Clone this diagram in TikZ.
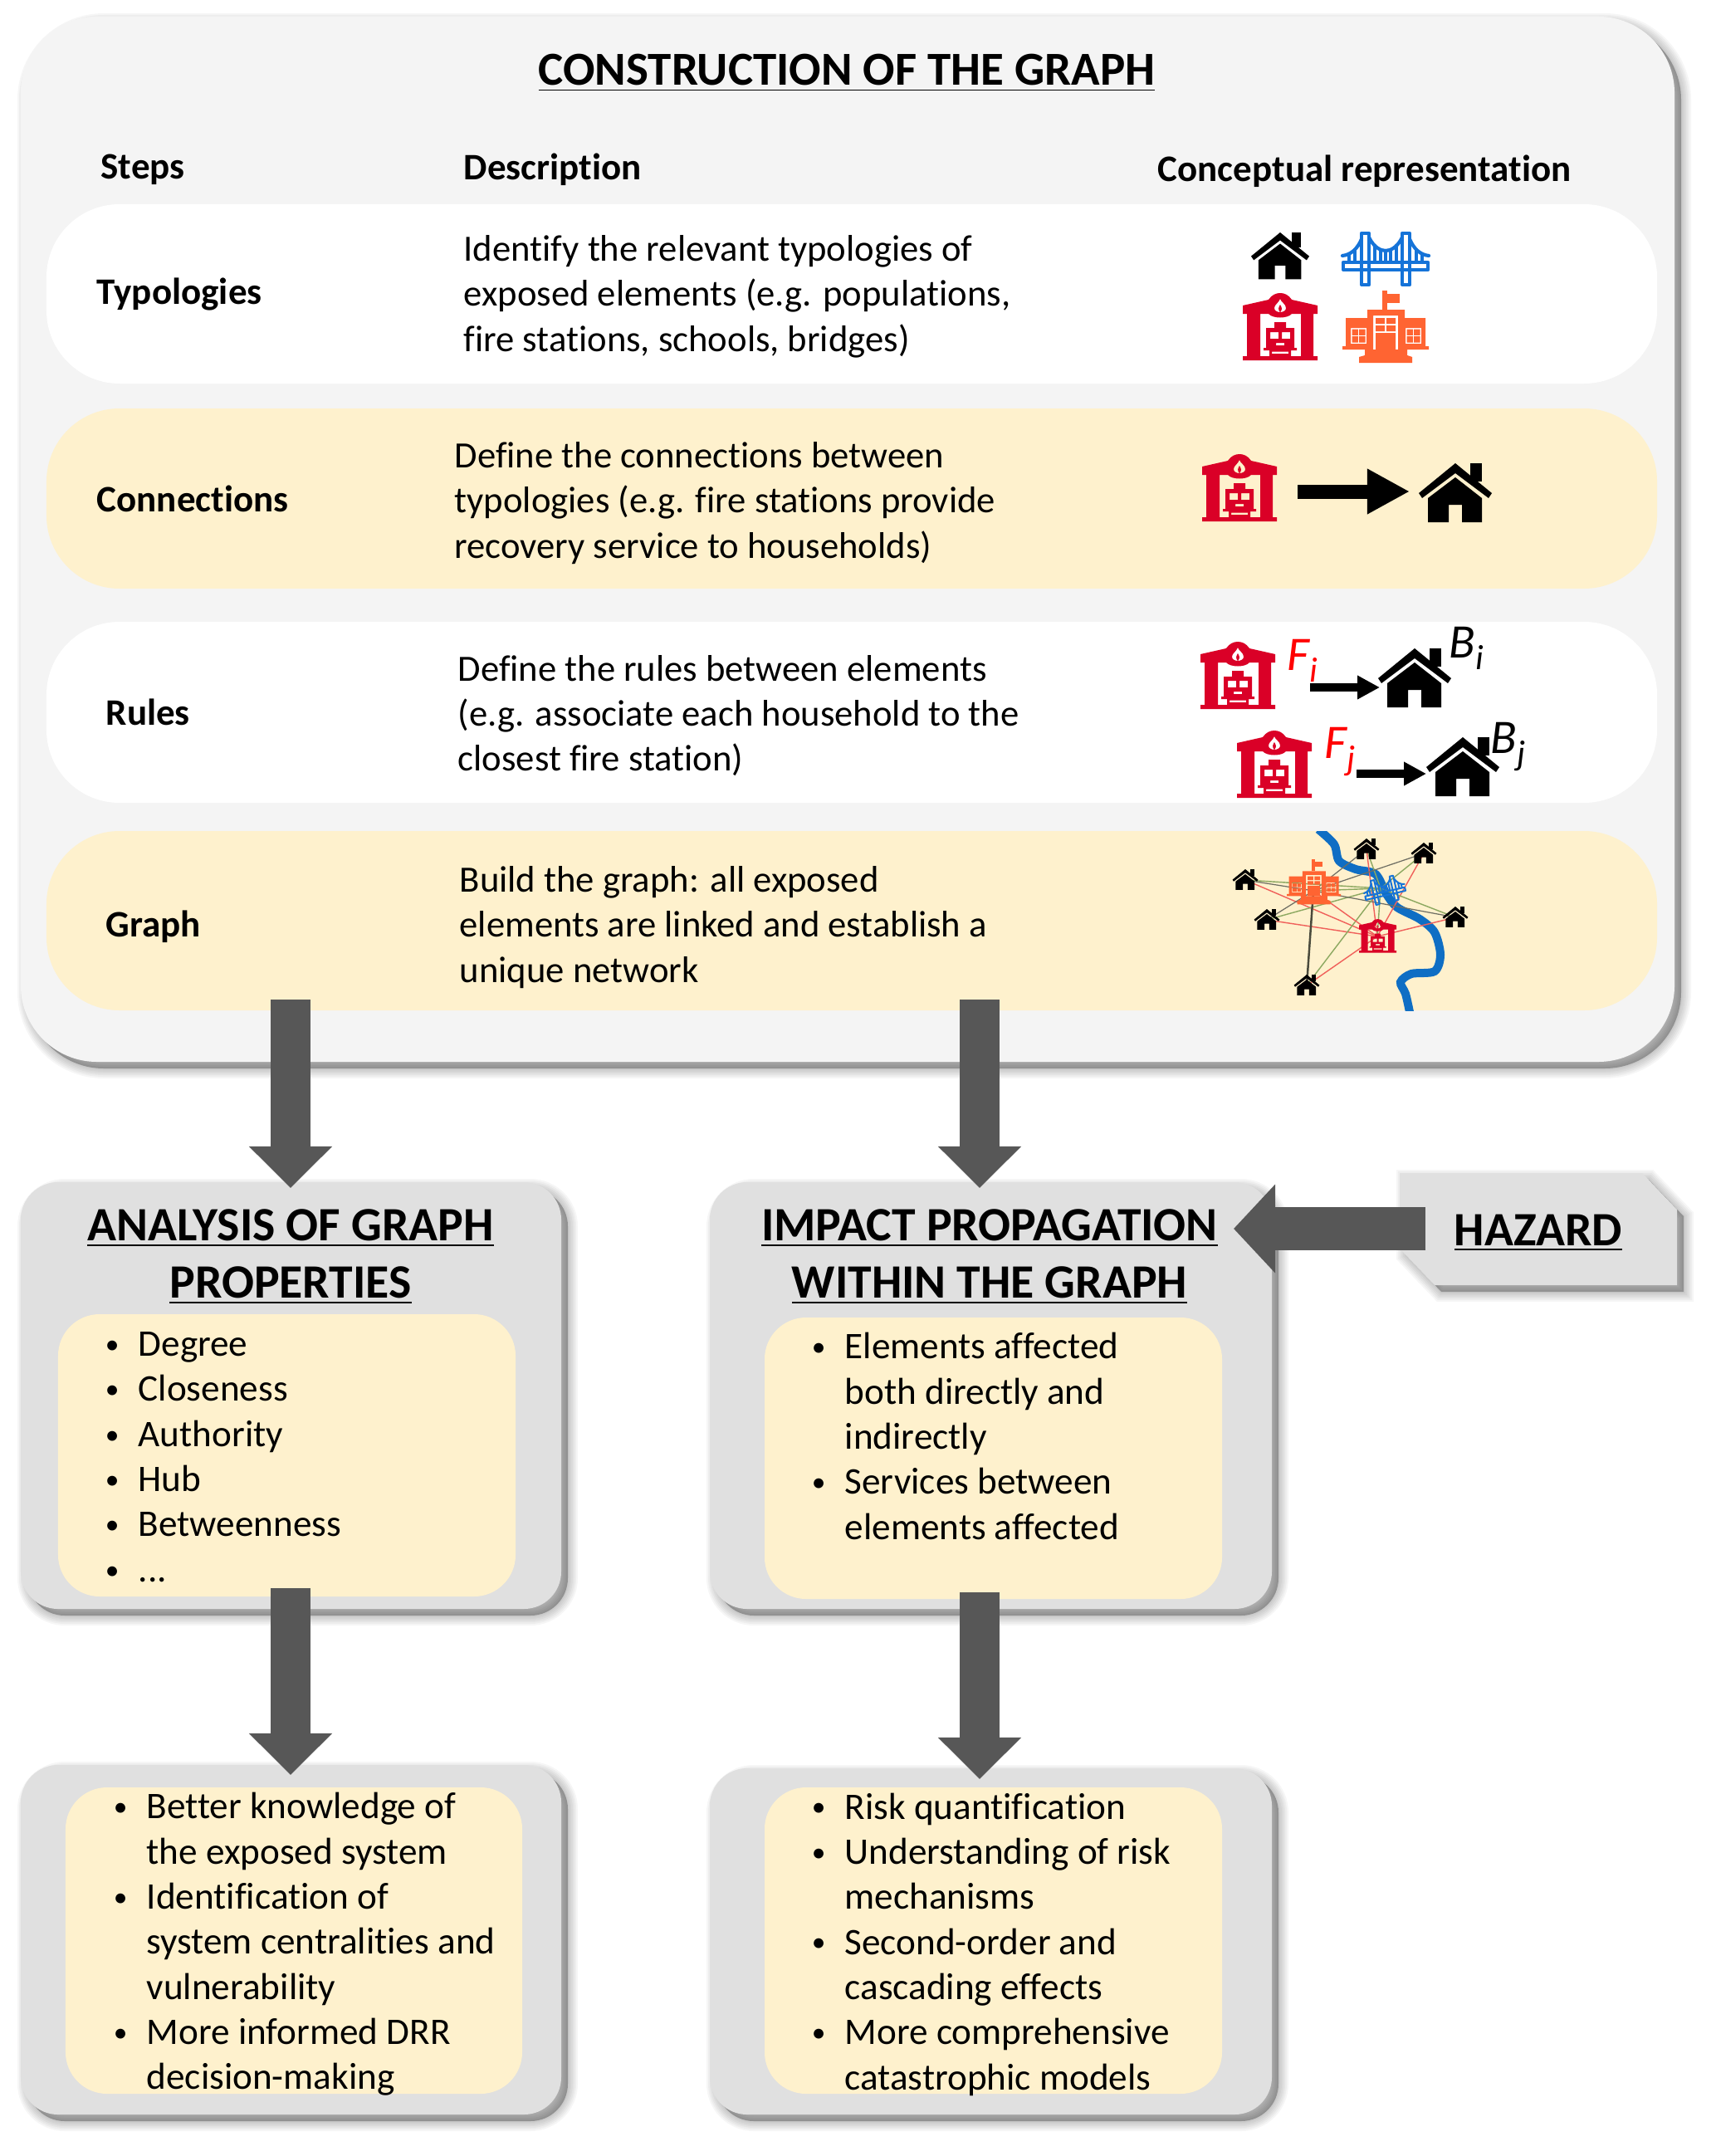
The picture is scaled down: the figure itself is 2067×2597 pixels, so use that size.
\documentclass[tikz,border=0pt]{standalone}
\usepackage{fontspec}
\setmainfont[Ligatures=NoCommon]{Carlito}
\usetikzlibrary{arrows.meta,calc}
\definecolor{cream}{HTML}{FEF1CD}
\definecolor{panelA}{HTML}{F4F4F4}
\definecolor{panelB}{HTML}{E0E0E0}
\definecolor{arrowgray}{HTML}{575757}
\definecolor{firered}{HTML}{DA0027}
\definecolor{schoolor}{HTML}{FF6432}
\definecolor{bridgeblue}{HTML}{1573D8}
\definecolor{riverblue}{HTML}{0F6EC4}
\definecolor{edgered}{HTML}{F0605A}
\definecolor{edgegreen}{HTML}{8CA860}
\definecolor{edgeblack}{HTML}{4A4A3C}
\newcommand{\bodyfont}{\fontsize{12.7}{15.45}\selectfont}
\newcommand{\listfont}{\fontsize{12.85}{15.45}\selectfont}
\newcommand{\titlefont}{\fontsize{16.4}{19.7}\selectfont\bfseries}
\newcommand{\bul}{\llap{\raisebox{0.9pt}{\fontsize{9.5}{9.5}\selectfont\textbullet}\hspace{6.6pt}}}
% named panel: name x1 y1 x2 y2 radius fill
\newcommand{\rbox}[7]{%
  \pgfmathsetmacro\rr{#6*0.01}%
  \pgfmathsetmacro\ww{(#4-#2)*0.01}%
  \pgfmathsetmacro\hh{(#5-#3)*0.01}%
  \node[fill=#7,rounded corners=\rr cm,minimum width=\ww cm,minimum height=\hh cm,inner sep=0pt,line width=0pt] (#1) at ({(#2+#4)/2},{(#3+#5)/2}) {};}
\newcommand{\shadowbox}[5]{%
  \pgfmathsetmacro\rr{#5*0.01}%
  \fill[black,opacity=.28,rounded corners=\rr cm] ({#1+8},{#2+8}) rectangle ({#3+8},{#4+8});%
  \foreach \s in {4,8,...,24}{%
    \draw[black,opacity=.035,line width=\s*0.01cm,rounded corners=\rr cm] ({#1+8},{#2+8}) rectangle ({#3+8},{#4+8});}}
\tikzset{
  blockarrow/.style={arrowgray,line width=0.48cm,-{Triangle[length=0.5cm,width=0.97cm]}},
  iconarrow/.style={black,line width=0.17cm,-{Triangle[length=0.51cm,width=0.51cm]}},
  smallarrow/.style={black,line width=0.1cm,-{Triangle[length=0.27cm,width=0.27cm]}},
  bodytext/.style={anchor=west,align=left,inner sep=0pt,font=\bodyfont},
  listtext/.style={anchor=west,align=left,inner sep=0pt,font=\listfont},
  headtext/.style={anchor=west,align=left,inner sep=0pt,font=\fontsize{12.8}{15.45}\selectfont\bfseries},
  paneltitle/.style={anchor=center,align=center,inner sep=0pt,font=\titlefont},
  mathlabel/.style={anchor=base west,inner sep=0pt,font=\fontsize{16.5}{18}\selectfont\itshape},
  houseicon/.pic={
    \fill[black] (44,0) -- (88,36) -- (84,42) -- (44,12) -- (4,42) -- (0,36) -- cycle;
    \fill[black] (62,0) rectangle (76,22);
    \fill[black] (44,17) -- (76,42) -- (76,71) -- (52,71) -- (52,50) -- (36,50) -- (36,71) -- (11,71) -- (11,42) -- cycle;
  },
  fireicon/.pic={
    \fill[firered,even odd rule] (0,15) -- (31,8) .. controls (35,2) and (40,0) .. (45,0) .. controls (50,0) and (55,2) .. (59,8) -- (90,15) -- (90,25) -- (85,25) -- (85,76) -- (90,76) -- (90,81) -- (0,81) -- (0,76) -- (5,76) -- (5,25) -- (0,25) -- cycle
      (21,25) -- (31,25) .. controls (36,31) and (54,31) .. (59,25) -- (70,25) -- (70,76) -- (21,76) -- cycle
      (45,7) .. controls (46,11) and (52,13) .. (52,18) .. controls (52,21) and (49,23) .. (45,23) .. controls (41,23) and (38,21) .. (38,18) .. controls (38,14) and (43,12) .. (45,7) -- cycle
      (45,14) .. controls (43,17) and (42,20) .. (45,23) .. controls (48,20) and (47,17) .. (45,14) -- cycle;
    \fill[firered,even odd rule] (38,35) -- (52,35) -- (52,42) -- (62,42) -- (62,66) -- (65,66) -- (65,69) -- (58,69) -- (58,76) -- (32,76) -- (32,69) -- (25,69) -- (25,66) -- (28,66) -- (28,42) -- (38,42) -- cycle
      (33,47) rectangle (43,55) (47,47) rectangle (57,55) (40,60) rectangle (50,63) (35,70.5) rectangle (55,73);
  },
  bridgeicon/.pic={
    \begin{scope}[bridgeblue,line cap=round,line join=round]
    \draw (23,1) rectangle (32,63);
    \draw (72,1) rectangle (81,63);
    \draw (0,28) .. controls (10,27) and (18,20) .. (23,8);
    \draw (32,6) .. controls (38,18) and (46,22) .. (52,22) .. controls (58,22) and (66,18) .. (72,6);
    \draw (81,8) .. controls (86,20) and (94,27) .. (104,28);
    \foreach \hx/\hy in {8/26,15/21,39/16,46/21,52/22,58/21,65/16,89/21,96/26}{\draw (\hx,\hy) -- (\hx,35);}
    \draw (1,36) rectangle (103,45);
    \end{scope}
  },
  schoolicon/.pic={
    \fill[schoolor] (48,0) rectangle (54,23);
    \fill[schoolor] (54,4) rectangle (69,15);
    \fill[schoolor,even odd rule] (30,23) -- (75,23) -- (75,33) -- (100,33) -- (100,67) -- (104,67) -- (104,71) -- (78,71) -- (78,78) -- (84,80) -- (84,87) -- (20,87) -- (20,80) -- (27,78) -- (27,71) -- (0,71) -- (0,67) -- (4,67) -- (4,33) -- (30,33) -- cycle
      (37,30) rectangle (67,71)
      (10,45) rectangle (29,64)
      (76,45) rectangle (95,64);
    \fill[schoolor] (40,33) rectangle (50.8,40) (53.2,33) rectangle (64,40) (40,42) rectangle (50.8,49) (53.2,42) rectangle (64,49) (40,51) rectangle (64,71);
    \fill[schoolor] (11.5,46.5) rectangle (18.8,53.8) (20.2,46.5) rectangle (27.5,53.8) (11.5,55.2) rectangle (18.8,62.5) (20.2,55.2) rectangle (27.5,62.5);
    \fill[schoolor] (77.5,46.5) rectangle (84.8,53.8) (86.2,46.5) rectangle (93.5,53.8) (77.5,55.2) rectangle (84.8,62.5) (86.2,55.2) rectangle (93.5,62.5);
  },
}
\begin{document}
\begin{tikzpicture}[x=0.01cm,y=-0.01cm]
\path[use as bounding box,fill=white] (0,0) rectangle (2067,2597);
% top panel
\shadowbox{25}{20}{2017}{1279}{92}
\rbox{construction}{25}{20}{2017}{1279}{92}{panelA}
\rbox{rowtypologies}{56}{246}{1996}{462}{88}{white}
\rbox{rowconnections}{56}{492}{1996}{709}{88}{cream}
\rbox{rowrules}{56}{749}{1996}{967}{88}{white}
\rbox{rowgraph}{56}{1001}{1996}{1217}{88}{cream}
\node[paneltitle,font=\fontsize{16.2}{20}\selectfont\bfseries] (maintitle) at (1020,88) {\underline{CONSTRUCTION OF THE GRAPH}};
\node[headtext] (hsteps) at (121,204) {Steps};
\node[headtext] (hdesc) at (558,204) {Description};
\node[headtext] (hconc) at (1394,206) {Conceptual representation};
\node[headtext] (ltyp) at (116,355) {Typologies};
\node[headtext] (lcon) at (116,601) {Connections};
\node[headtext] (lrul) at (127,858) {Rules};
\node[headtext] (lgra) at (127,1116) {Graph};
\node[bodytext] (dtyp) at (558,357) {Identify the relevant typologies of\\exposed elements (e.g. populations,\\fire stations, schools, bridges)};
\node[bodytext] (dcon) at (547,606) {Define the connections between\\typologies (e.g. fire stations provide\\recovery service to households)};
\node[bodytext] (drul) at (551,862) {Define the rules between elements\\(e.g. associate each household to the\\closest fire station)};
\node[bodytext] (dgra) at (553,1117) {Build the graph: all exposed\\elements are linked and establish a\\unique network};
% row 1 icons
\pic[scale=70/88] at (1507,280) {houseicon};
\pic[line width=0.042cm] at (1617,280) {bridgeicon};
\pic at (1497,353) {fireicon};
\pic at (1617,350) {schoolicon};
% row 2 icons
\pic at (1448,547) {fireicon};
\pic at (1709,558) {houseicon};
\coordinate (cona) at (1563,592);
\coordinate (conb) at (1698,592);
\draw[iconarrow] (cona) -- (conb);
% row 3 icons
\pic at (1446,773) {fireicon};
\pic at (1660,781) {houseicon};
\coordinate (rula) at (1578,828);
\coordinate (rulb) at (1662,828);
\draw[smallarrow] (rula) -- (rulb);
\pic at (1490,880) {fireicon};
\pic at (1718,888) {houseicon};
\coordinate (rulc) at (1634,932);
\coordinate (ruld) at (1718,932);
\draw[smallarrow] (rulc) -- (ruld);
\node[mathlabel,red] (fi) at (1550,807) {F\raisebox{-4pt}{\fontsize{12}{12}\selectfont i}};
\node[mathlabel] (bi) at (1745,792) {B\raisebox{-4pt}{\fontsize{12}{12}\selectfont i}};
\node[mathlabel,red] (fj) at (1595,913) {F\raisebox{-4pt}{\fontsize{12}{12}\selectfont j}};
\node[mathlabel] (bj) at (1795,907) {B\raisebox{-4pt}{\fontsize{12}{12}\selectfont j}};
% row 4 graph
\begin{scope}
\clip (1400,1001) rectangle (1900,1217);
\draw[riverblue,line width=0.1cm] plot[smooth] coordinates {(1588,999) (1607,1017) (1613,1037) (1633,1047) (1657,1053) (1670,1077) (1683,1093) (1710,1107) (1728,1123) (1735,1150) (1728,1170) (1700,1173) (1687,1183) (1693,1197) (1698,1219)};
\end{scope}
\coordinate (gs) at (1582,1073);
\coordinate (gb) at (1663,1070);
\coordinate (gf) at (1659,1128);
\coordinate (h1) at (1646,1023);
\coordinate (h2) at (1715,1028);
\coordinate (h3) at (1500,1060);
\coordinate (h4) at (1526,1108);
\coordinate (h5) at (1753,1105);
\coordinate (h6) at (1574,1187);
\foreach \h in {h1,h2,h3,h4,h5,h6}{
  \draw[edgegreen,line width=0.4pt] (gb) -- (\h);
  \draw[edgered,line width=0.4pt] (gf) -- (\h);
  \draw[edgeblack!80,line width=0.35pt] (gs) -- (\h);
}
\draw[edgeblack,line width=0.7pt] (gs) -- (h6);
\draw[edgegreen,line width=0.4pt] (gs) -- (gb) (gf) -- (gb);
\draw[edgered,line width=0.4pt] (gf) -- (gs);
\pic[scale=0.625] at (1550,1035) {schoolicon};
\pic[scale=0.48,rotate=13,line width=0.02cm] at (1640,1063) {bridgeicon};
\pic[scale=0.5] at (1637,1107) {fireicon};
\foreach \h in {h1,h2,h3,h4,h5,h6}{
  \pic[scale=0.35] at ($(\h)+(-15.4,-13)$) {houseicon};
}
% lower panels
\shadowbox{25}{1424}{676}{1938}{45}
\rbox{analysis}{25}{1424}{676}{1938}{45}{panelB}
\rbox{analysisin}{70}{1583}{621}{1923}{50}{cream}
\shadowbox{855}{1424}{1532}{1938}{45}
\rbox{impact}{855}{1424}{1532}{1938}{45}{panelB}
\rbox{impactin}{921}{1587}{1472}{1926}{50}{cream}
\shadowbox{25}{2126}{676}{2547}{45}
\rbox{resultA}{25}{2126}{676}{2547}{45}{panelB}
\rbox{resultAin}{79}{2153}{629}{2522}{50}{cream}
\shadowbox{855}{2130}{1532}{2547}{45}
\rbox{resultB}{855}{2130}{1532}{2547}{45}{panelB}
\rbox{resultBin}{921}{2153}{1472}{2522}{50}{cream}
% hazard
\fill[black,opacity=.28] (1694,1421) -- (1986,1421) -- (2028,1465) -- (2028,1556) -- (1736,1556) -- (1694,1512) -- cycle;
\foreach \s in {4,8,...,24}{
  \draw[black,opacity=.035,line width=\s*0.01cm] (1694,1421) -- (1986,1421) -- (2028,1465) -- (2028,1556) -- (1736,1556) -- (1694,1512) -- cycle;}
\fill[panelB] (1686,1413) -- (1978,1413) -- (2020,1457) -- (2020,1548) -- (1728,1548) -- (1686,1504) -- cycle;
\node[paneltitle] (hazard) at (1853,1485) {\underline{HAZARD}};
\coordinate (hazsrc) at (1717,1480);
% panel titles and lists
\node[paneltitle] (tanalysis) at (350,1514) {\underline{ANALYSIS OF GRAPH}\\\underline{PROPERTIES}};
\node[paneltitle] (timpact) at (1192,1514) {\underline{IMPACT PROPAGATION}\\\underline{WITHIN THE GRAPH}};
\node[listtext] (lanalysis) at (166,1755) {\bul Degree\\\bul Closeness\\\bul Authority\\\bul Hub\\\bul Betweenness\\\bul ...};
\node[listtext] (limpact) at (1017,1730) {\bul Elements affected\\both directly and\\indirectly\\\bul Services between\\elements affected};
\node[listtext] (lresA) at (176,2342) {\bul Better knowledge of\\the exposed system\\\bul Identification of\\system centralities and\\vulnerability\\\bul More informed DRR\\decision-making};
\node[listtext] (lresB) at (1017,2342) {\bul Risk quantification\\\bul Understanding of risk\\mechanisms\\\bul Second-order and\\cascading effects\\\bul More comprehensive\\catastrophic models};
% block arrows
\coordinate (ax) at (350,1204);
\coordinate (bx) at (1180,1204);
\draw[blockarrow] (ax) -- (ax |- 0,1431);
\draw[blockarrow] (bx) -- (bx |- 0,1431);
\coordinate (cx) at (350,1913);
\coordinate (dx) at (1180,1918);
\draw[blockarrow] (cx) -- (cx |- 0,2138);
\draw[blockarrow] (dx) -- (dx |- 0,2143);
\draw[arrowgray,line width=0.52cm,-{Triangle[length=0.5cm,width=1.04cm]}] (hazsrc) -- (1486,1480);
\end{tikzpicture}
\end{document}
